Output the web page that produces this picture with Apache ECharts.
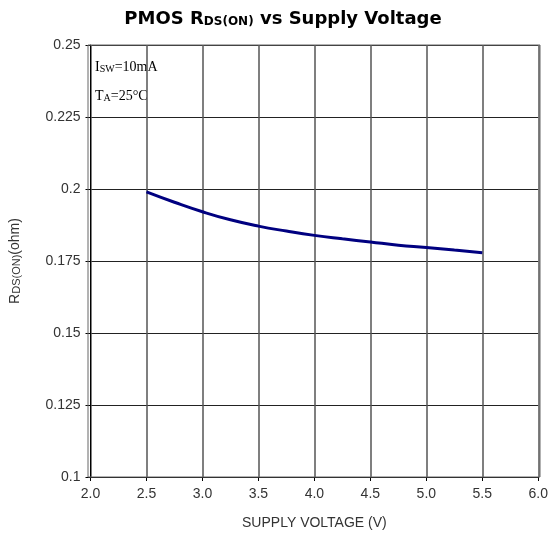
<!DOCTYPE html>
<html>
<head>
<meta charset="utf-8">
<script src="https://cdn.jsdelivr.net/npm/echarts@6/dist/echarts.min.js"></script>
<style>
  html, body { margin: 0; padding: 0; background: #fff; }
  #chart { width: 551px; height: 541px; }
</style>
</head>
<body>
<div id="chart"></div>
<script>
// 电源电压 (V)
const voltage = [2.5, 2.75, 3.0, 3.25, 3.5, 3.75, 4.0, 4.25, 4.5, 4.75, 5.0, 5.25, 5.5];
// RDS(ON) (ohm)
const rdsOn = [0.1990, 0.1954, 0.1921, 0.1893, 0.1871, 0.1854, 0.1839, 0.1827, 0.1816, 0.1805, 0.1797, 0.1788, 0.1779];
const xTicks = [2.0, 6.0, 0.5];      // min, max, interval
const yTicks = [0.1, 0.25, 0.025];

const chart = echarts.init(document.getElementById('chart'));

const option = {
  animation: false,
  title: {
    text: '{a|PMOS R}{b|DS(ON)}{a| vs Supply Voltage}',
    left: 278,
    top: 5,
    textAlign: 'center',
    textStyle: {
      rich: {
        a: { fontFamily: 'DejaVu Sans', fontWeight: 'bold', fontSize: 18, color: '#000' },
        b: { fontFamily: 'DejaVu Sans', fontWeight: 'bold', fontSize: 12, color: '#000', padding: [6, 0, 0, 0] },
      },
    },
  },
  grid: { left: 88, right: 11, top: 45, bottom: 64 },
  xAxis: {
    type: 'value',
    min: xTicks[0],
    max: xTicks[1],
    interval: xTicks[2],
    name: 'SUPPLY VOLTAGE (V)',
    nameLocation: 'middle',
    nameGap: 39,
    nameTextStyle: { fontFamily: 'Liberation Sans', fontSize: 14, color: '#333' },
    axisLine: { lineStyle: { color: '#000', width: 1 } },
    axisTick: { show: true, length: 4, lineStyle: { color: '#000' } },
    axisLabel: {
      margin: 10,
      fontFamily: 'Liberation Sans', fontSize: 14, color: '#333',
      formatter: v => v.toFixed(1),
    },
    splitLine: { show: true, lineStyle: { color: '#555', width: 1.5 } },
  },
  yAxis: {
    type: 'value',
    min: yTicks[0],
    max: yTicks[1],
    interval: yTicks[2],
    name: '{a|R}{b|DS(ON)}{a|(ohm)}',
    nameLocation: 'middle',
    nameRotate: 90,
    nameGap: 68,
    nameTextStyle: {
      rich: {
        a: { fontFamily: 'Liberation Sans', fontSize: 14, color: '#333' },
        b: { fontFamily: 'Liberation Sans', fontSize: 11, color: '#333', padding: [4, 0, 0, 0] },
      },
    },
    axisLine: { show: true, lineStyle: { color: '#000', width: 1 } },
    axisTick: { show: true, length: 5, lineStyle: { color: '#000' } },
    axisLabel: {
      margin: 10,
      fontFamily: 'Liberation Sans', fontSize: 14, color: '#333',
    },
    splitLine: { show: true, lineStyle: { color: '#222', width: 1 } },
  },
  graphic: [
    {
      type: 'rect',
      shape: { x: 88, y: 45, width: 452, height: 432 },
      style: { fill: 'none', stroke: '#666', lineWidth: 1 },
      silent: true,
      z: 1,
    },
    {
      type: 'text',
      left: 95,
      top: 60,
      style: {
        text: '{a|I}{b|SW}{a|=10mA}',
        rich: {
          a: { fontFamily: 'Liberation Serif', fontSize: 14, fill: '#000' },
          b: { fontFamily: 'Liberation Serif', fontSize: 10, fill: '#000', padding: [5, 0, 0, 0] },
        },
      },
    },
    {
      type: 'text',
      left: 95,
      top: 89,
      style: {
        text: '{a|T}{b|A}{a|=25°C}',
        rich: {
          a: { fontFamily: 'Liberation Serif', fontSize: 14, fill: '#000' },
          b: { fontFamily: 'Liberation Serif', fontSize: 10, fill: '#000', padding: [5, 0, 0, 0] },
        },
      },
    },
  ],
  series: [
    {
      type: 'line',
      data: voltage.map((v, i) => [v, rdsOn[i]]),
      smooth: true,
      showSymbol: false,
      lineStyle: { color: '#000080', width: 3 },
      z: 3,
    },
  ],
};

chart.setOption(option);
</script>
</body>
</html>
